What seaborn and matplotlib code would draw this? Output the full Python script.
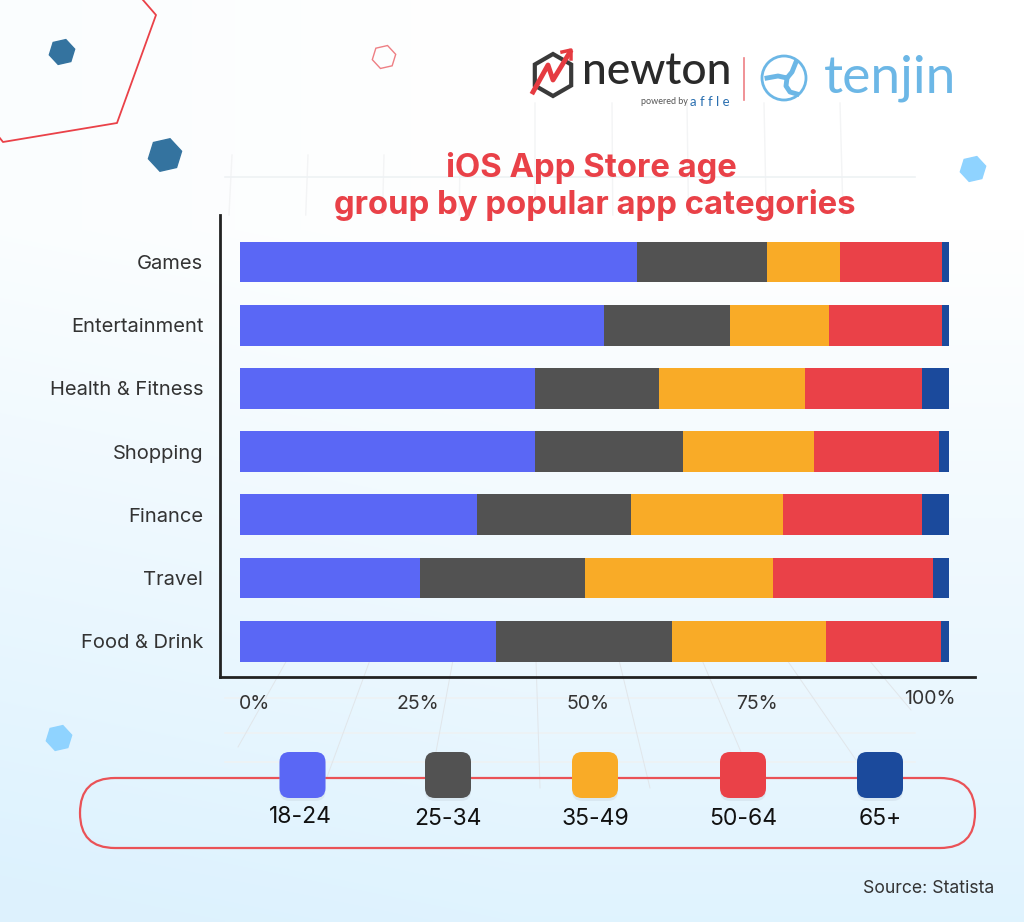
import matplotlib.pyplot as plt
import matplotlib.patches as mpatches
from matplotlib.transforms import ScaledTranslation
import seaborn as sns
import pandas as pd
import numpy as np

categories = ['Games', 'Entertainment', 'Health & Fitness', 'Shopping', 'Finance', 'Travel', 'Food & Drink']
age_18_24 = [56.0, 51.3, 41.6, 41.6, 33.4, 25.4, 36.1]
age_25_34 = [18.3, 17.8, 17.5, 20.9, 21.7, 23.3, 24.8]
age_35_49 = [10.3, 14.0, 20.6, 18.5, 21.5, 26.5, 21.8]
age_50_64 = [14.4, 15.9, 16.5, 17.6, 19.6, 22.5, 16.2]
age_65_up = [1.0, 1.0, 3.8, 1.4, 3.8, 2.3, 1.1]
age_groups = ['18-24', '25-34', '35-49', '50-64', '65+']
age_colors = ['#5a67f5', '#525252', '#f9ab27', '#ea4148', '#1b4a9c']
tick_labels = ['0%', '25%', '50%', '75%', '100%']
tick_places = [2.1, 25.1, 49.1, 72.9, 97.3]  # the labels sit off the true scale in the picture


def draw_backdrop():
    # Soft blue gradient, white around the top right
    xx, yy = np.meshgrid(np.arange(1024), np.arange(922))
    t = np.clip((yy - 230) / 690, 0, 1) * 0.92 + np.clip((520 - xx) / 520, 0, 1) * 0.14
    t = np.clip(t, 0, 1)[..., None]
    img = (1 - t) * np.array([1.0, 1.0, 1.0]) + t * np.array([0.867, 0.949, 0.996])

    bg = plt.axes([0, 0, 1, 1])
    bg.imshow(img, extent=(0, 1024, 922, 0), aspect='auto')
    bg.set_xlim(0, 1024)
    bg.set_ylim(922, 0)
    bg.axis('off')

    # Faint perspective grid behind the chart
    for x in [232, 308, 384, 460, 535, 612, 687, 764, 840]:
        top = 155 if x < 500 else 103
        bg.plot([x, x + (x - 536) * 0.01], [top, 215], color='#f3f4f5', lw=1)
    for y in [177, 698, 733, 762]:
        bg.plot([225, 915], [y, y], color='#eef2f4', lw=1.2)
    starts = [(287, 660), (370, 660), (453, 660), (536, 660), (619, 660), (702, 660), (787, 660), (869, 660)]
    ends = [(238, 747), (327, 777), (436, 752), (540, 788), (650, 788), (741, 752), (856, 760), (911, 710)]
    for s, e in zip(starts, ends):
        bg.plot([s[0], e[0]], [s[1], e[1]], color='#e1e6ea', lw=0.7)

    # Hexagons
    bg.plot([143, 156, 117, 3, -5], [0, 15, 123, 142, 132], color='#ea4148', lw=1.3)
    for x, y, r, c in [(62, 52, 13, '#34739f'), (165, 155, 17, '#34739f'), (973, 169, 13, '#8fd3ff'), (59, 738, 13, '#8fd3ff')]:
        bg.add_patch(mpatches.RegularPolygon((x, y), 6, radius=r, orientation=0.3, color=c))
    bg.add_patch(mpatches.RegularPolygon((384, 57), 6, radius=12, orientation=0.3, fill=False, edgecolor='#ee7f84', lw=1))

    # Newton logo
    bg.add_patch(mpatches.RegularPolygon((553, 75), 6, radius=21, fill=False, edgecolor='#3a3a3a', lw=3))
    bg.plot([533, 548, 553, 570], [92, 65, 80, 52], color='#e53b41', lw=3.5)
    bg.plot([562, 571, 571], [52, 50, 59], color='#e53b41', lw=2.5)
    bg.text(582, 71, 'newton', fontsize=32, color='#2a2a2a', family='Lato', weight='medium', va='center')
    bg.text(641, 102, 'powered by', fontsize=6.5, color='#555555', family='Lato', va='center')
    bg.text(690, 102, 'a f f l e', fontsize=9.5, color='#2a6fb0', family='Lato', va='center')
    bg.plot([744, 744], [58, 100], color='#ee7f84', lw=1.2)

    # Tenjin logo
    bg.add_patch(mpatches.Ellipse((784, 78), 44, 44, fill=False, edgecolor='#6cb7e6', lw=2))
    bg.plot([767, 778, 787, 792, 796], [78, 76, 78, 72, 62], color='#6cb7e6', lw=3.5)
    bg.plot([787, 786, 790, 797], [78, 86, 92, 94], color='#6cb7e6', lw=3.5)
    bg.text(824, 78, 'tenjin', fontsize=38.5, color='#6cb7e6', family='Lato', va='center')

    # Legend pill
    bg.add_patch(mpatches.FancyBboxPatch((115, 813), 825, 0.01, boxstyle='round,pad=35,rounding_size=35',
                                         fill=False, edgecolor='#ea5257', lw=1.6, zorder=3))
    return bg


def visualize_data(df):
    # Figure is 1024x922 at dpi 100
    plt.figure(figsize=(10.24, 9.22), dpi=100)
    bg = draw_backdrop()

    # Legend swatches and names
    for x, y_text, name, color in zip([302.5, 448, 595, 743, 880], [817, 819, 819, 819, 819], age_groups, age_colors):
        bg.add_patch(mpatches.FancyBboxPatch((x - 15, 763), 30, 30, boxstyle='round,pad=8,rounding_size=10',
                                             facecolor='#cfdde8', edgecolor='none', alpha=0.5, zorder=4))
        bg.add_patch(mpatches.FancyBboxPatch((x - 15, 760), 30, 30, boxstyle='round,pad=8,rounding_size=10',
                                             facecolor=color, edgecolor='none', zorder=5))
        bg.text(x - 2 if name == '18-24' else x, y_text, name, fontsize=16.5, color='#111111', family='Inter', ha='center', va='center')

    bg.text(863, 888, 'Source: Statista', fontsize=12.7, color='#333333', family='Inter', va='center')
    bg.text(591, 168, 'iOS App Store age', fontsize=23.7, color='#e94148', family='Inter', weight='bold', ha='center', va='center')
    bg.text(595, 205, 'group by popular app categories', fontsize=23.7, color='#e94148', family='Inter', weight='bold', ha='center', va='center')

    # Chart area, 220 to 975 across and 215 to 677 down
    plt.axes([220 / 1024, 1 - 677 / 922, 755 / 1024, 462 / 922], facecolor='none')

    # Running total for each age group, longest bar first so the shorter ones stay on top
    totals = df[age_groups].cumsum(axis=1)
    totals['Category'] = df['Category']
    for name, color in reversed(list(zip(age_groups, age_colors))):
        sns.barplot(x=name, y='Category', data=totals, color=color, width=0.645, saturation=1, orient='h')

    plt.xlim(-2.82, 103.67)
    plt.ylim(6.566, -0.744)
    plt.xlabel('')
    plt.ylabel('')
    plt.xticks(tick_places, tick_labels, fontsize=14, color='#333333', family='Inter')
    plt.yticks(fontsize=14.5, color='#333333', family='Inter')
    plt.tick_params(axis='x', length=0, pad=13)
    plt.tick_params(axis='y', length=0, pad=12)
    ax = plt.gca()
    ax.spines[['top', 'right']].set_visible(False)
    ax.spines[['left', 'bottom']].set_linewidth(2)
    ax.spines[['left', 'bottom']].set_color('#222222')

    # The 100% label stands a little higher than the others
    last = ax.get_xticklabels()[-1]
    last.set_transform(last.get_transform() + ScaledTranslation(0, 5 / 100, plt.gcf().dpi_scale_trans))

    plt.savefig('out.png', dpi=100)


df = pd.DataFrame({'Category': categories, '18-24': age_18_24, '25-34': age_25_34,
                   '35-49': age_35_49, '50-64': age_50_64, '65+': age_65_up})
visualize_data(df)
